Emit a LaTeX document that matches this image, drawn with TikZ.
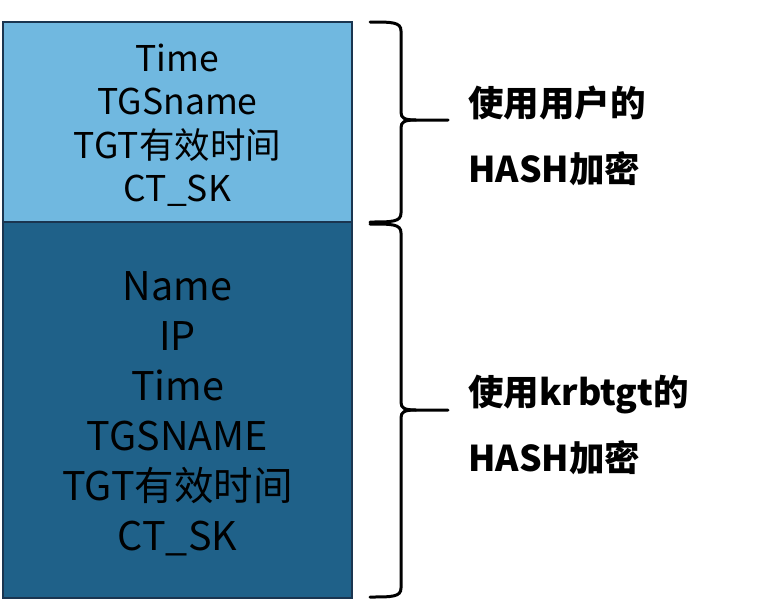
\documentclass[tikz,border=0pt]{standalone}
\usepackage{fontspec}
\setmainfont{Noto Sans CJK SC}
\usetikzlibrary{positioning, calc}

\definecolor{lightfield}{HTML}{70B8E0}
\definecolor{darkfield}{HTML}{1F6189}
\definecolor{fieldedge}{HTML}{1A3550}

% geschweifte Klammer: x, oben, Spitze, unten
\newcommand{\sidebrace}[4]{%
  \draw[bracelne] (#1,#2) .. controls ($(#1,#2)+(22,0)$) and ($(#1,#2)+(31,0)$) .. ($(#1,#2)+(31,9)$)
    -- ($(#1,#3)+(31,-8)$) .. controls ($(#1,#3)+(31,-2)$) and ($(#1,#3)+(34,0)$) .. ($(#1,#3)+(46,0)$)
    -- ($(#1,#3)+(78,0)$);
  \draw[bracelne] ($(#1,#3)+(46,0)$) .. controls ($(#1,#3)+(34,0)$) and ($(#1,#3)+(31,2)$) .. ($(#1,#3)+(31,8)$)
    -- ($(#1,#4)+(31,-9)$) .. controls ($(#1,#4)+(31,0)$) and ($(#1,#4)+(22,0)$) .. (#1,#4);
}

\begin{document}
\begin{tikzpicture}[
            x=1pt, y=-1pt,
            field/.style={rectangle, draw=fieldedge, line width=2pt,
            minimum width=349pt, align=center, text=black, inner sep=0pt},
            fieldtext/.style={align=center, text=black, inner sep=0pt},
            bracelne/.style={draw=black, line width=3pt, line cap=round},
            lbl/.style={font=\fontsize{35.5}{66}\selectfont\bfseries, align=left, anchor=west, inner sep=0pt}
        ]
\useasboundingbox (0,0) rectangle (758,603);

% ----- Felder -----
            \node[field, fill=lightfield, minimum height=200pt] (ticket) at (177.5,122) {};
            \node[field, fill=darkfield, minimum height=376pt] (tgt) at (177.5,410) {};
            \node[fieldtext, font=\fontsize{35.5}{43.5}\selectfont] (ticketinfo) at (177.5,125)
                  {Time\\TGSname\\TGT有效时间\\CT\_SK};
            \node[fieldtext, font=\fontsize{39.5}{50}\selectfont] (tgtinfo) at (177.5,414)
                  {Name\\IP\\Time\\TGSNAME\\TGT有效时间\\CT\_SK};

% ----- Klammern -----
            \sidebrace{370}{22}{120}{222}
            \sidebrace{370}{224}{410}{597}

% ----- Beschriftungen -----
            \node[lbl] (userkey) at (468,136) {使用用户的\\HASH加密};
            \node[lbl] (krbkey) at (468,425) {使用krbtgt的\\HASH加密};

        \end{tikzpicture}
\end{document}
